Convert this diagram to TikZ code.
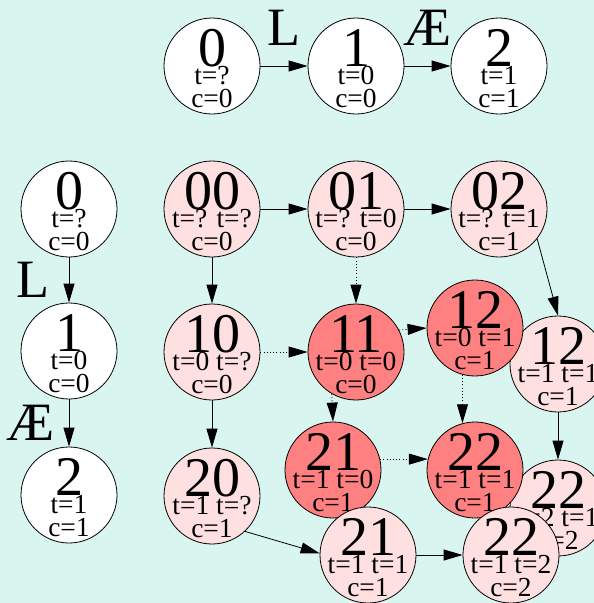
\documentclass[tikz,border=0pt]{standalone}
\usepackage{fontspec}
\setmainfont{Liberation Serif}
\usetikzlibrary{
    arrows.meta,
    calc
}

\definecolor{bgcyan}{RGB}{217,245,240}
\definecolor{palepink}{RGB}{255,224,224}
\definecolor{hotred}{RGB}{255,128,128}

\begin{document}
\begin{tikzpicture}[
    x=1pt, y=-1pt,
    state/.style={
        circle,
        draw,
        line width=0.8pt,
        minimum size=96pt,
        inner sep=0pt
    },
    plain/.style={state, fill=white},
    pale/.style={state, fill=palepink},
    hot/.style={state, fill=hotred},
    num/.style={font=\fontsize{56}{56}\selectfont, inner sep=0pt, anchor=base},
    info/.style={font=\fontsize{27.5}{27.5}\selectfont, inner sep=0pt, anchor=base},
    lab/.style={font=\fontsize{54}{54}\selectfont, inner sep=0pt},
    edge/.style={-{Triangle[length=19pt, width=11pt]}, line width=0.8pt},
    weak/.style={edge, dash pattern=on 1pt off 2.2pt}
]

\useasboundingbox (0,0) rectangle (594,603);
\clip (0,0) rectangle (594,603);
\fill[bgcyan] (0,0) rectangle (594,603);

% name, style, position, number, t line, c line
\newcommand{\st}[6]{%
    \node[#2] (#1) at (#3) {};
    \node[num] (#1n) at ([yshift=0pt]#1.center) {#4};
    \node[info] (#1t) at ([yshift=-18pt]#1.center) {#5};
    \node[info] (#1c) at ([yshift=-41pt]#1.center) {#6};
}

% ============================================================
% SINGLE RUN (top row and left column)
% ============================================================

\st{a0}{plain}{212,66}{0}{t=?}{c=0}
\st{a1}{plain}{356,66}{1}{t=0}{c=0}
\st{a2}{plain}{499,66}{2}{t=1}{c=1}

\st{b0}{plain}{69,209}{0}{t=?}{c=0}
\st{b1}{plain}{69,351}{1}{t=0}{c=0}
\st{b2}{plain}{69,495}{2}{t=1}{c=1}

\draw[edge] (a0) -- node[lab, anchor=base, yshift=21pt] {L} (a1);
\draw[edge] (a1) -- node[lab, anchor=base, yshift=21pt] {Æ} (a2);
\draw[edge] (b0) -- node[lab, anchor=base east, xshift=-19pt, yshift=-17pt] {L} (b1);
\draw[edge] (b1) -- node[lab, anchor=base east, xshift=-14pt, yshift=-17pt] {Æ} (b2);

% ============================================================
% PAIRED RUN (grid)
% ============================================================

\st{s00}{pale}{212,209}{00}{t=? t=?}{c=0}
\st{s01}{pale}{356,209}{01}{t=? t=0}{c=0}
\st{s02}{pale}{499,209}{02}{t=? t=1}{c=1}
\st{s10}{pale}{212,352}{10}{t=0 t=?}{c=0}
\st{s20}{pale}{212,496}{20}{t=1 t=?}{c=1}

\st{p12}{pale}{558,364}{12}{t=1 t=1}{c=1}
\st{p22}{pale}{558,508}{22}{t=2 t=1}{c=2}

\st{s11}{hot}{356,352}{11}{t=0 t=0}{c=0}
\st{r12}{hot}{475,328}{12}{t=0 t=1}{c=1}
\st{r21}{hot}{333,470}{21}{t=1 t=0}{c=1}
\st{r22}{hot}{475,470}{22}{t=1 t=1}{c=1}

\st{q21}{pale}{368,555}{21}{t=1 t=1}{c=1}
\st{q22}{pale}{511,555}{22}{t=1 t=2}{c=2}

\foreach \a/\b in {s00/s01, s01/s02, s00/s10, s10/s20, q21/q22, p12/p22} {
    \draw[edge] (\a) -- (\b);
}
\draw[edge] (s02.-38) -- (p12.north);
\draw[edge] (s20.-47) -- (q21.178);

\draw[weak] (s01) -- (s11);
\draw[weak] (s10) -- (s11);
\draw[weak] (s11.27) -- (r12.west);
\draw[weak] (s11.240) -- (r21.north);
\draw[weak] (r12.255) -- (r22.105);
\draw[weak] (r21.13) -- (r22.167);

\end{tikzpicture}
\end{document}
